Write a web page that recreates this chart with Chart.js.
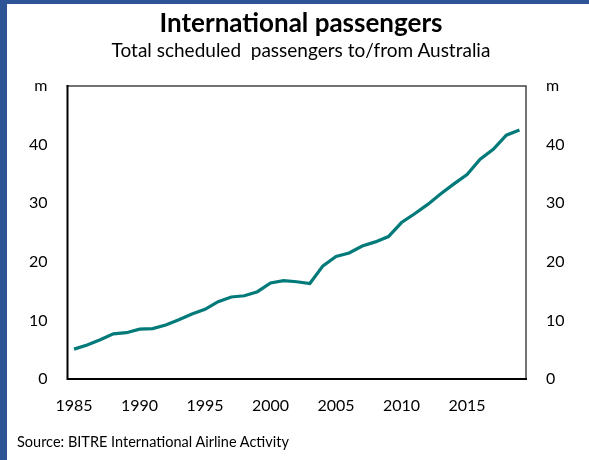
<!DOCTYPE html>
<html>
<head>
<meta charset="utf-8">
<title>International passengers</title>
<script src="https://cdn.jsdelivr.net/npm/chart.js@4.4.1/dist/chart.umd.min.js"></script>
<style>
  html, body { margin: 0; padding: 0; background: #fff; }
  body { width: 589px; height: 460px; position: relative; overflow: hidden;
         font-family: Lato, "Open Sans", sans-serif; color: #000; }
  #chart { position: absolute; left: 0; top: 0; }
  .edge-top { position: absolute; left: 0; top: 0; width: 589px; height: 4px; background: #2F5496; }
  .edge-left { position: absolute; left: 0; top: 0; width: 7px; height: 460px; background: #2F5496; }
  .title { position: absolute; left: 10px; width: 582px; top: 6px; text-align: center;
           font-size: 26px; font-weight: 700; line-height: 32px; }
  .subtitle { position: absolute; left: 10px; width: 582px; top: 38px; text-align: center;
              font-size: 19px; line-height: 24px; }
  .source { position: absolute; left: 17px; top: 433px; font-size: 14.5px; line-height: 18px; }
</style>
</head>
<body>
<canvas id="chart" width="589" height="460"></canvas>
<div class="edge-top"></div>
<div class="edge-left"></div>
<div class="title">International passengers</div>
<div class="subtitle">Total scheduled&nbsp; passengers to/from Australia</div>
<div class="source">Source: BITRE International Airline Activity</div>
<script>
// annual scheduled international passengers, millions
const years = [
  1985, 1986, 1987, 1988, 1989, 1990, 1991, 1992, 1993, 1994,
  1995, 1996, 1997, 1998, 1999, 2000, 2001, 2002, 2003, 2004,
  2005, 2006, 2007, 2008, 2009, 2010, 2011, 2012, 2013, 2014,
  2015, 2016, 2017, 2018, 2019
];
const passengers = [
  5.1, 5.8, 6.7, 7.7, 7.9, 8.5, 8.6, 9.2, 10.1, 11.1,
  11.9, 13.2, 14.0, 14.2, 14.9, 16.4, 16.8, 16.6, 16.3, 19.3,
  20.9, 21.5, 22.7, 23.4, 24.3, 26.7, 28.2, 29.8, 31.6, 33.3,
  34.9, 37.5, 39.2, 41.6, 42.5
];
const yMin = 0;
const yMax = 50;
const yStep = 10;
const unitLabel = "m";   // shown in place of the top tick
const labelEvery = 5;

const tickFont = { family: "Lato", size: 16 };

// box around the plot area
const plotFrame = {
  id: "plotFrame",
  afterDatasetsDraw(chart) {
    const { ctx, chartArea: a } = chart;
    ctx.save();
    ctx.lineCap = "square";
    ctx.strokeStyle = "#444";
    ctx.lineWidth = 1.5;
    ctx.beginPath();
    ctx.moveTo(a.left, a.top);
    ctx.lineTo(a.right, a.top);
    ctx.lineTo(a.right, a.bottom);
    ctx.stroke();
    ctx.strokeStyle = "#000";
    ctx.lineWidth = 2;
    ctx.beginPath();
    ctx.moveTo(a.left, a.top);
    ctx.lineTo(a.left, a.bottom);
    ctx.lineTo(a.right, a.bottom);
    ctx.stroke();
    ctx.restore();
  }
};

const valueAxis = (position, width) => ({
  position,
  min: yMin,
  max: yMax,
  grid: { display: false, drawTicks: false },
  border: { display: false },
  ticks: {
    stepSize: yStep,
    padding: 20,
    color: "#000",
    font: tickFont,
    callback: v => (v === yMax ? unitLabel : v)
  },
  afterFit: s => { s.width = width; }
});

new Chart(document.getElementById("chart"), {
  type: "line",
  data: {
    labels: years,
    datasets: [{
      label: "Passengers",
      data: passengers,
      borderColor: "#037A7A",
      borderWidth: 3.2,
      pointRadius: 0,
      tension: 0,
      yAxisID: "y"
    }]
  },
  options: {
    responsive: false,
    animation: false,
    devicePixelRatio: 1,
    layout: { padding: { left: 7.5, top: 86, right: 0, bottom: 0 } },
    plugins: {
      legend: { display: false },
      tooltip: { enabled: false }
    },
    scales: {
      x: {
        type: "category",
        offset: true,
        grid: { display: false, drawTicks: false },
        border: { display: false },
        ticks: {
          autoSkip: false,
          maxRotation: 0,
          padding: 17,
          color: "#000",
          font: tickFont,
          callback: (v, i) => (years[i] % labelEvery === 0 ? String(years[i]) : "")
        },
        afterFit: s => { s.height = 81; }
      },
      y: valueAxis("left", 60),
      y2: valueAxis("right", 63)
    }
  },
  plugins: [plotFrame]
});
</script>
</body>
</html>
